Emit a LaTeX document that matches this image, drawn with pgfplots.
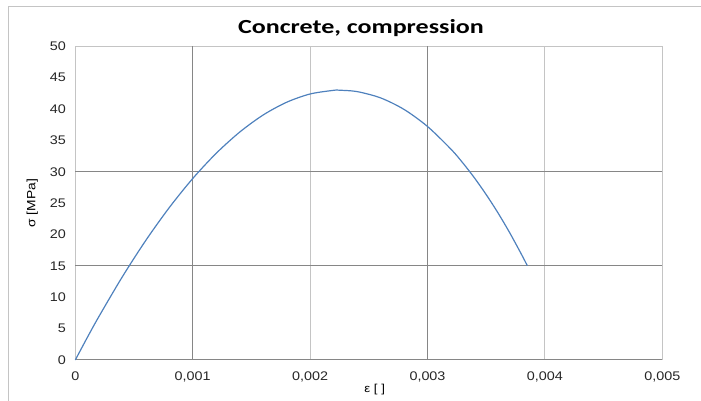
\documentclass[border=0pt]{standalone}
\usepackage{fontspec}
\setmainfont{Liberation Sans}
\newfontfamily\tickfont{Liberation Sans}[FakeStretch=1.15]
\newfontfamily\titlefont{Carlito}[FakeStretch=1.3]
\usepackage{pgfplots}
\pgfplotsset{compat=1.18}
\definecolor{xlblue}{HTML}{4F81BD}
\definecolor{griddark}{HTML}{868686}
\definecolor{gridlight}{HTML}{C4C4C4}

\begin{document}
\begin{tikzpicture}
\useasboundingbox (0,0) rectangle (701pt,401pt);
% outer chart frame
\draw[gridlight, line width=1pt] (8pt,0) -- (8pt,394pt) -- (701pt,394pt);
\begin{axis}[
    at={(75.3pt,41pt)}, anchor=south west,
    scale only axis,
    width=587pt, height=313.7pt,
    xmin=0, xmax=0.005,
    ymin=0, ymax=50,
    xtick={0,0.001,0.002,0.003,0.004,0.005},
    xticklabels={0,{0,001},{0,002},{0,003},{0,004},{0,005}},
    ytick={0,5,...,50},
    scaled x ticks=false,
    /pgf/number format/assume math mode=true,
    major tick length=0pt,
    axis line style={gridlight, line width=1pt},
    tick label style={font=\tickfont\fontsize{12.5}{14}\selectfont, text=black!85},
    xticklabel style={yshift=-8pt},
    yticklabel style={xshift=-6pt},
    xlabel={ε [ ]},
    xlabel style={at={(axis description cs:0.51,-0.0957)}, anchor=center,
        font=\tickfont\fontsize{11.5}{14}\selectfont},
    ylabel={σ [MPa]},
    ylabel style={at={(axis description cs:-0.0733,0.5)}, anchor=center,
        font=\tickfont\fontsize{12}{14}\selectfont},
    clip=false,
]
% gridlines as in the reference
\draw[griddark, line width=1pt] (axis cs:0.001,0) -- (axis cs:0.001,50);
\draw[gridlight, line width=1pt] (axis cs:0.002,0) -- (axis cs:0.002,50);
\draw[griddark, line width=1pt] (axis cs:0.003,0) -- (axis cs:0.003,50);
\draw[gridlight, line width=1pt] (axis cs:0.004,0) -- (axis cs:0.004,50);
\draw[griddark, line width=1pt] (axis cs:0,15) -- (axis cs:0.005,15);
\draw[griddark, line width=1pt] (axis cs:0,30) -- (axis cs:0.005,30);
\draw[griddark, line width=1pt] (axis cs:0,0) -- (axis cs:0.005,0);

\addplot[color=xlblue, line width=1.2pt, no marks, smooth] coordinates {
    (0,0) (0.0001,3.51) (0.0002,6.89) (0.0004,13.24) (0.0006,19.05)
    (0.0008,24.28) (0.001,28.92) (0.0012,32.94) (0.0014,36.32)
    (0.0016,39.05) (0.0018,41.08) (0.002,42.40) (0.0022,42.98)
    (0.00225,43.00) (0.0024,42.78) (0.0026,41.78) (0.0028,39.94)
    (0.003,37.22) (0.0032,33.60) (0.0033,31.43) (0.0034,29.02)
    (0.0035,26.36) (0.0036,23.46) (0.0037,20.29) (0.0038,16.85)
    (0.00385,15.04)
};
\end{axis}
% chart title
\node[anchor=base, font=\titlefont\bfseries\fontsize{20}{24}\selectfont]
    at (361pt,367.7pt) {Concrete, compression};
\end{tikzpicture}
\end{document}
